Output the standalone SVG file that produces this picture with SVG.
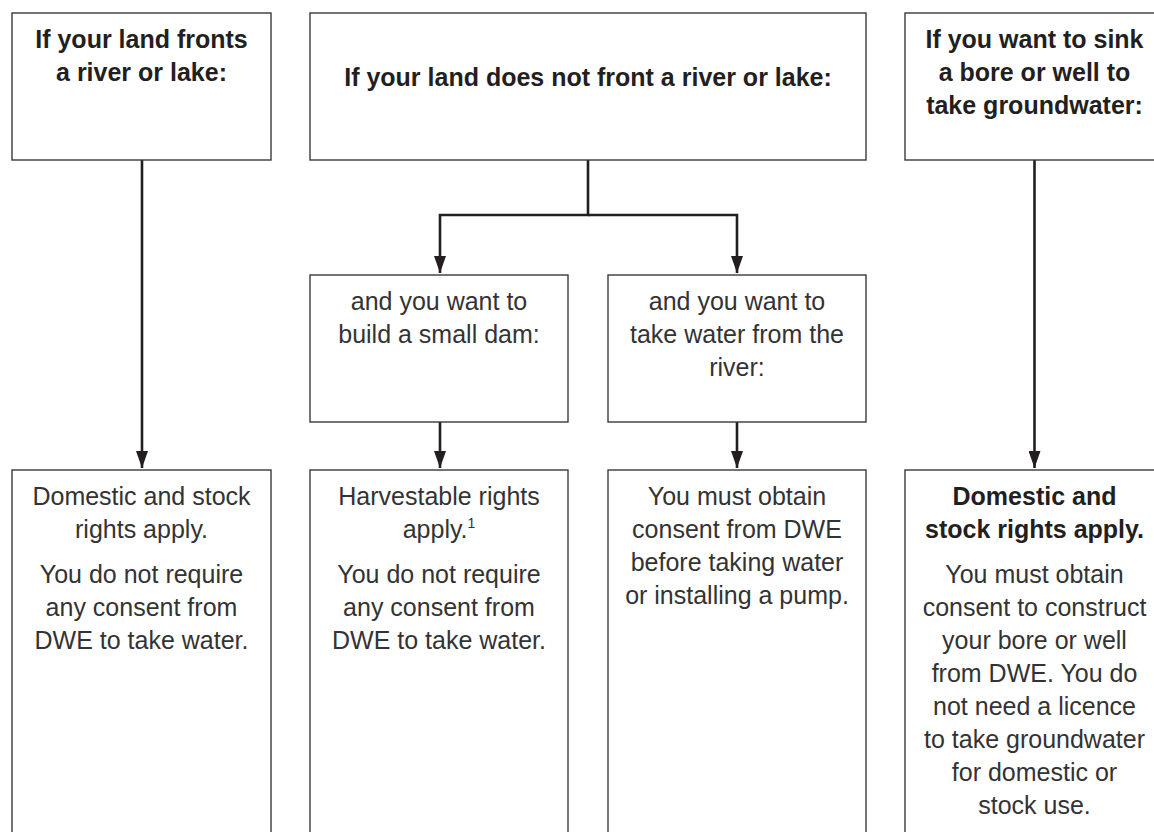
<svg xmlns="http://www.w3.org/2000/svg" width="1154" height="832" viewBox="0 0 1154 832">
<style>
.box{fill:#fff;stroke:#3a3a3a;stroke-width:1.4}
.conn{fill:none;stroke:#231f20;stroke-width:2.6}
.b{font-family:"Liberation Sans",Arial,sans-serif;font-weight:bold;font-size:25px;fill:#231f20;text-anchor:middle}
.r{font-family:"Liberation Sans",Arial,sans-serif;font-size:25px;fill:#333;text-anchor:middle}
</style>
<defs>
<marker id="arr" markerUnits="userSpaceOnUse" markerWidth="17" markerHeight="12" viewBox="0 0 17 12" refX="17" refY="6" orient="auto">
<path d="M0,0 L17,6 L0,12 z" fill="#231f20"/>
</marker>
</defs>
<rect width="1154" height="832" fill="#fff"/>

<g id="connectors">
<path class="conn" d="M142,160 V468" marker-end="url(#arr)"/>
<path class="conn" d="M588,160 V215 H440 V273" marker-end="url(#arr)"/>
<path class="conn" d="M588,215 H737 V273" marker-end="url(#arr)"/>
<path class="conn" d="M1034.5,160 V468" marker-end="url(#arr)"/>
<path class="conn" d="M440,422 V468" marker-end="url(#arr)"/>
<path class="conn" d="M737,422 V468" marker-end="url(#arr)"/>
</g>

<g id="node-fronts">
<rect class="box" x="12" y="13" width="259" height="147"/>
<text class="b" x="141.5" y="48">If your land fronts</text>
<text class="b" x="141.5" y="81">a river or lake:</text>
</g>

<g id="node-not-fronts">
<rect class="box" x="310" y="13" width="556" height="147"/>
<text class="b" x="588" y="86">If your land does not front a river or lake:</text>
</g>

<g id="node-bore">
<rect class="box" x="905" y="13" width="259" height="147"/>
<text class="b" x="1034.5" y="48">If you want to sink</text>
<text class="b" x="1034.5" y="81">a bore or well to</text>
<text class="b" x="1034.5" y="114">take groundwater:</text>
</g>

<g id="node-dam">
<rect class="box" x="310" y="275" width="258" height="147"/>
<text class="r" x="439" y="310">and you want to</text>
<text class="r" x="439" y="343">build a small dam:</text>
</g>

<g id="node-river">
<rect class="box" x="608" y="275" width="258" height="147"/>
<text class="r" x="737" y="310">and you want to</text>
<text class="r" x="737" y="343">take water from the</text>
<text class="r" x="737" y="376">river:</text>
</g>

<g id="node-domestic">
<rect class="box" x="12" y="470" width="259" height="400"/>
<text class="r" x="141.5" y="505">Domestic and stock</text>
<text class="r" x="141.5" y="538">rights apply.</text>
<text class="r" x="141.5" y="583">You do not require</text>
<text class="r" x="141.5" y="616">any consent from</text>
<text class="r" x="141.5" y="649">DWE to take water.</text>
</g>

<g id="node-harvestable">
<rect class="box" x="310" y="470" width="258" height="400"/>
<text class="r" x="439" y="505">Harvestable rights</text>
<text class="r" x="439" y="538">apply.<tspan font-size="14" dy="-10">1</tspan></text>
<text class="r" x="439" y="583">You do not require</text>
<text class="r" x="439" y="616">any consent from</text>
<text class="r" x="439" y="649">DWE to take water.</text>
</g>

<g id="node-consent">
<rect class="box" x="608" y="470" width="258" height="400"/>
<text class="r" x="737" y="505">You must obtain</text>
<text class="r" x="737" y="538">consent from DWE</text>
<text class="r" x="737" y="571">before taking water</text>
<text class="r" x="737" y="604">or installing a pump.</text>
</g>

<g id="node-groundwater">
<rect class="box" x="905" y="470" width="259" height="400"/>
<text class="b" x="1034.5" y="505">Domestic and</text>
<text class="b" x="1034.5" y="538">stock rights apply.</text>
<text class="r" x="1034.5" y="583">You must obtain</text>
<text class="r" x="1034.5" y="616">consent to construct</text>
<text class="r" x="1034.5" y="649">your bore or well</text>
<text class="r" x="1034.5" y="682">from DWE. You do</text>
<text class="r" x="1034.5" y="715">not need a licence</text>
<text class="r" x="1034.5" y="748">to take groundwater</text>
<text class="r" x="1034.5" y="781">for domestic or</text>
<text class="r" x="1034.5" y="814">stock use.</text>
</g>
</svg>
